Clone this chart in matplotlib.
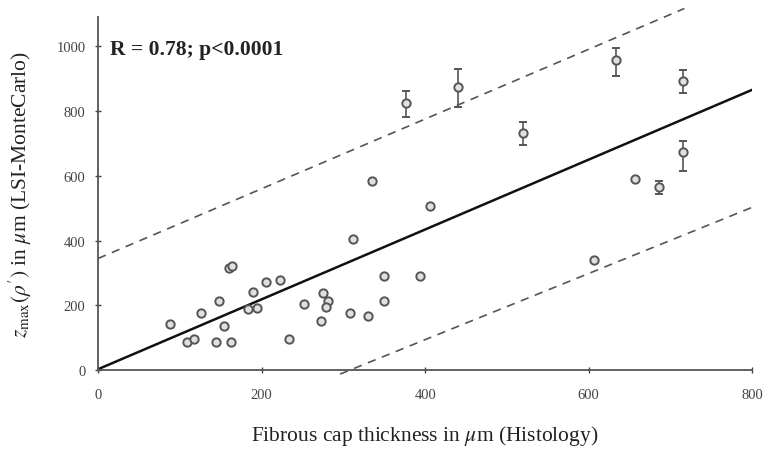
import matplotlib.pyplot as plt
import numpy as np

plt.rcParams['font.family'] = ['Liberation Serif', 'DejaVu Serif']
plt.rcParams['mathtext.fontset'] = 'stix'

# plain points (histology thickness, LSI zmax)
px = [88, 109, 117, 126, 148, 144, 154, 163, 160, 164, 189, 183, 194, 205, 223,
      234, 252, 275, 273, 281, 279, 308, 312, 330, 350, 350, 394, 607, 335, 406, 657]
py = [142, 88, 96, 178, 214, 88, 137, 86, 315, 323, 240, 189, 191, 271, 278,
      96, 204, 238, 153, 214, 194, 178, 405, 168, 290, 214, 290, 341, 585, 506, 591]

# points with error bars
ex = [376, 440, 520, 633, 715, 715, 686]
ey = [826, 874, 732, 959, 893, 673, 565]
err_lo = [44, 61, 38, 51, 37, 57, 20]
err_hi = [35, 57, 34, 37, 35, 34, 18]

# regression line and dashed band (end points)
reg_x = [0, 800]
reg_y = [3, 866]
up_x = [0, 717]
up_y = [345, 1117]
lo_x = [296, 800]
lo_y = [-12, 503]

fig = plt.figure(figsize=(7.66, 4.56), dpi=100)
ax = fig.add_axes([0.128, 0.186, 0.854, 0.774])

ax.plot(reg_x, reg_y, color='#111111', lw=1.8, zorder=2)
ax.plot(up_x, up_y, color='#555555', lw=1.2, ls=(0, (5, 4)), clip_on=False)
ax.plot(lo_x, lo_y, color='#555555', lw=1.2, ls=(0, (5, 4)), clip_on=False)

ax.plot(px, py, 'o', ms=6, mfc='#e0e0e0', mec='#555555', mew=1.4, ls='none', zorder=3)
ax.errorbar(ex, ey, yerr=[err_lo, err_hi], fmt='o', ms=6, mfc='#e0e0e0', mec='#555555',
            mew=1.4, ecolor='#555555', elinewidth=1.2, capsize=3, capthick=1.2, zorder=3)

ax.text(15, 993, 'R = 0.78; p<0.0001', fontsize=15.5, fontweight='bold',
        color='#222222', va='center', ha='left')

ax.set_xlim(0, 800)
ax.set_ylim(0, 1090)
ax.set_xticks([0, 200, 400, 600, 800])
ax.set_yticks([0, 200, 400, 600, 800, 1000])
ax.tick_params(labelsize=10.5, colors='#444444', direction='inout', length=4, width=1)
ax.tick_params(axis='x', pad=11)
ax.tick_params(axis='y', pad=7)
for s in ['top', 'right']:
    ax.spines[s].set_visible(False)
for s in ['left', 'bottom']:
    ax.spines[s].set_color('#555555')
    ax.spines[s].set_linewidth(1.3)

ax.set_xlabel(r'Fibrous cap thickness in $\mu$m (Histology)', fontsize=15.5, color='#222222', labelpad=16)
ax.set_ylabel(r"$z_{\mathrm{max}}(\rho^{\prime})$ in $\mu$m (LSI-MonteCarlo)", fontsize=15.5,
              color='#222222', labelpad=16)

fig.savefig('out.png', dpi=100)
